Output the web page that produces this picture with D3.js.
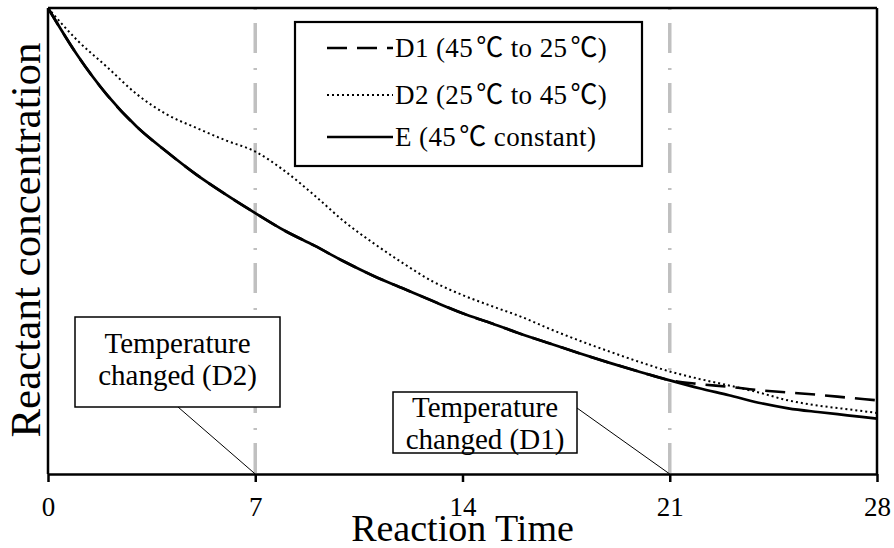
<!DOCTYPE html>
<html lang="en">
<head>
<meta charset="utf-8">
<script src="https://cdn.jsdelivr.net/npm/d3@7"></script>
<style>
  html, body { margin: 0; padding: 0; background: #fff; }
  #chart { width: 894px; height: 548px; }
  text { font-family: "Liberation Serif", "Times New Roman", serif; fill: #000; }
  .deg { font-family: "Noto Sans CJK JP", "Noto Sans CJK SC", sans-serif; }
</style>
</head>
<body>
<div id="chart"></div>
<script>
//Datos (concentración relativa)
const days = [0,1,2,3,4,5,6,7,8,9,10,11,12,13,14,15,16,17,18,19,20,21,22,23,24,25,26,27,28];
const seriesE = [1.000,0.898,0.813,0.745,0.692,0.643,0.600,0.560,0.522,0.490,0.456,0.425,0.398,0.371,0.345,0.323,0.300,0.279,0.258,0.238,0.219,0.201,0.184,0.169,0.153,0.141,0.133,0.126,0.119];
const seriesD1 = [1.000,0.898,0.813,0.745,0.692,0.643,0.600,0.560,0.522,0.490,0.456,0.425,0.398,0.371,0.345,0.323,0.300,0.279,0.258,0.238,0.219,0.201,0.193,0.187,0.180,0.175,0.170,0.164,0.158];
const seriesD2 = [1.000,0.930,0.873,0.815,0.772,0.743,0.716,0.692,0.650,0.598,0.542,0.495,0.452,0.413,0.384,0.360,0.337,0.310,0.285,0.262,0.240,0.220,0.204,0.190,0.175,0.158,0.147,0.139,0.131];
const xTicks = [0, 7, 14, 21, 28];
const changeDays = [7, 21];
const legendLabels = ['D1 (45\u2103 to 25\u2103)', 'D2 (25\u2103 to 45\u2103)', 'E (45\u2103 constant)'];
const noteLines = [['Temperature', 'changed (D2)'], ['Temperature', 'changed (D1)']];

const margin = {top: 8, right: 17, bottom: 74, left: 48},
    width = 894 - margin.left - margin.right,
    height = 548 - margin.top - margin.bottom;

const svg = d3.select('#chart').append('svg')
    .attr('width', 894).attr('height', 548);
const g = svg.append('g').attr('transform', 'translate(' + margin.left + ',' + margin.top + ')');

const x = d3.scaleLinear().domain([0, 28]).range([0, width]);
const y = d3.scaleLinear().domain([0, 1]).range([height, 0]);

//Líneas verticales de cambio de temperatura
g.selectAll('.vline').data(changeDays).enter().append('line')
    .attr('x1', d => x(d)).attr('x2', d => x(d))
    .attr('y1', 0).attr('y2', height)
    .attr('stroke', '#c0c0c0').attr('stroke-width', 3.5)
    .attr('stroke-dasharray', '2,13,30,15');

//Series
const line = d3.line().x((d, i) => x(days[i])).y(d => y(d)).curve(d3.curveMonotoneX);
const styles = [
    {data: seriesD1, dash: '20,10', w: 2.6},
    {data: seriesD2, dash: '2,3', w: 2},
    {data: seriesE, dash: null, w: 2.7}
];
styles.forEach(s => {
    g.append('path').datum(s.data)
        .attr('d', line)
        .attr('fill', 'none').attr('stroke', '#000')
        .attr('stroke-width', s.w)
        .attr('stroke-dasharray', s.dash);
});

//Marco y ejes
g.append('line').attr('x1', 0).attr('x2', width).attr('y1', 0).attr('y2', 0).attr('stroke', '#000').attr('stroke-width', 2.5);
g.append('line').attr('x1', width).attr('x2', width).attr('y1', 0).attr('y2', height).attr('stroke', '#000').attr('stroke-width', 2.5);
g.append('line').attr('x1', 0).attr('x2', 0).attr('y1', 0).attr('y2', height).attr('stroke', '#000').attr('stroke-width', 2.5);

const xAxis = g.append('g')
    .attr('transform', 'translate(0,' + height + ')')
    .call(d3.axisBottom(x).tickValues(xTicks).tickSize(8).tickPadding(15).tickSizeOuter(0));
xAxis.attr('font-family', '"Liberation Serif", serif').attr('font-size', 27);
xAxis.select('.domain').attr('stroke-width', 2.5);
xAxis.selectAll('.tick line').attr('stroke-width', 2.5);

//Títulos de ejes
svg.append('text')
    .attr('x', margin.left + width / 2).attr('y', 541)
    .attr('text-anchor', 'middle')
    .style('font-size', '38px')
    .text('Reaction Time');
svg.append('text')
    .attr('transform', 'translate(40,' + (margin.top + height / 2 - 1) + ') rotate(-90)')
    .attr('text-anchor', 'middle')
    .style('font-size', '43px')
    .text('Reactant concentration');

//Leyenda
const legend = svg.append('g');
legend.append('rect')
    .attr('x', 295).attr('y', 22).attr('width', 347).attr('height', 144)
    .attr('fill', '#fff').attr('stroke', '#000').attr('stroke-width', 2.2);
const legendRows = [48, 95, 137];
legendLabels.forEach((lab, i) => {
    legend.append('line')
        .attr('x1', 327).attr('x2', 393).attr('y1', legendRows[i]).attr('y2', legendRows[i])
        .attr('stroke', '#000').attr('stroke-width', styles[i].w)
        .attr('stroke-dasharray', styles[i].dash);
    const t = legend.append('text')
        .attr('x', 395).attr('y', legendRows[i] + 9)
        .style('font-size', '27px')
        .style('letter-spacing', '0.4px');
    lab.split(/(\u2103)/).filter(p => p.length).forEach(p => {
        t.append('tspan')
            .attr('class', p === '\u2103' ? 'deg' : null)
            .attr('dx', p === '\u2103' ? 3 : null)
            .text(p);
    });
});

//Anotaciones
const notes = [
    {day: 7, box: [75, 317, 205, 90], from: [178, 407]},
    {day: 21, box: [393, 392, 184, 61], from: [577, 408]}
];
notes.forEach((n, i) => {
    svg.append('line')
        .attr('x1', n.from[0]).attr('y1', n.from[1])
        .attr('x2', margin.left + x(n.day)).attr('y2', margin.top + height)
        .attr('stroke', '#000').attr('stroke-width', 1);
    svg.append('rect')
        .attr('x', n.box[0]).attr('y', n.box[1]).attr('width', n.box[2]).attr('height', n.box[3])
        .attr('fill', '#fff').attr('stroke', '#000').attr('stroke-width', 1.5);
    const cy = n.box[1] + n.box[3] / 2;
    noteLines[i].forEach((t, j) => {
        svg.append('text')
            .attr('x', n.box[0] + n.box[2] / 2)
            .attr('y', cy - (i === 0 ? 9 : 6) + j * 32)
            .attr('text-anchor', 'middle')
            .style('font-size', '29px')
            .text(t);
    });
});
</script>
</body>
</html>
